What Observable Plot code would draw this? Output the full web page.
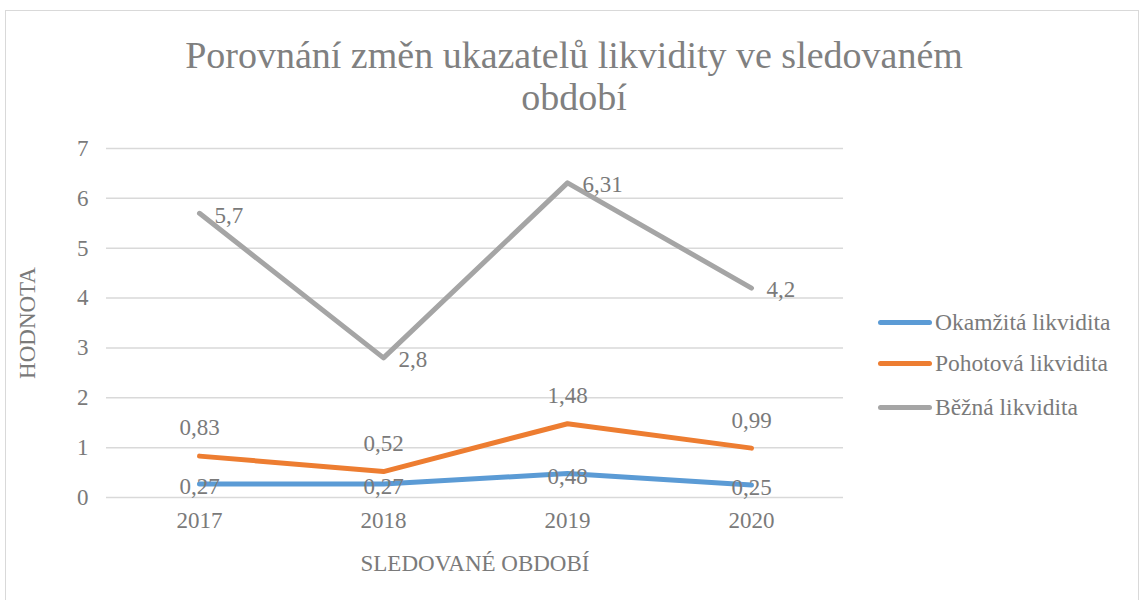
<!DOCTYPE html>
<html><head><meta charset="utf-8">
<script src="https://cdn.jsdelivr.net/npm/d3@7"></script>
<script src="https://cdn.jsdelivr.net/npm/@observablehq/plot@0.6"></script>
<style>
body{margin:0;background:#fff;font-family:"Liberation Serif",Tinos,"Times New Roman",Times,"DejaVu Serif",serif;color:#7a7a7a}
#wrap{position:relative;width:1141px;height:600px;overflow:hidden;background:#fff}
#frame{position:absolute;left:5px;top:10px;width:1134px;height:620px;border:1.5px solid #d9d9d9;box-sizing:border-box}
#title{position:absolute;left:0;top:34px;width:1148px;text-align:center;font-size:38px;line-height:42px;color:#808080}
#chart{position:absolute;left:0;top:120px}
.item{position:absolute;left:878px;height:30px;display:flex;align-items:center;font-size:23.5px;color:#7a7a7a;white-space:nowrap}
.sw{width:54px;height:5px;border-radius:3px;margin-right:3px}
</style></head>
<body>
<div id="wrap">
  <div id="frame"></div>
  <div id="title">Porovnání změn ukazatelů likvidity ve sledovaném<br>období</div>
  <div id="chart"></div>
  <div id="legend"></div>
</div>
<script>
const years = ["2017", "2018", "2019", "2020"];
const seriesNames = ["Okamžitá likvidita", "Pohotová likvidita", "Běžná likvidita"];
const okamzita = [0.27, 0.27, 0.48, 0.25];
const pohotova = [0.83, 0.52, 1.48, 0.99];
const bezna = [5.7, 2.8, 6.31, 4.2];
const colors = ["#5B9BD5", "#ED7D31", "#A5A5A5"];
const yTicks = [0, 1, 2, 3, 4, 5, 6, 7];

const seriesValues = [okamzita, pohotova, bezna];
const data = seriesNames.flatMap((s, si) => years.map((y, i) => ({series: s, year: y, value: seriesValues[si][i]})));
const fmt = v => String(v).replace(".", ",");
const textColor = "#7a7a7a";
const ff = "'Liberation Serif', Tinos, 'Times New Roman', Times, 'DejaVu Serif', serif";

const chart = Plot.plot({
  width: 1141,
  height: 480,
  marginLeft: 106,
  marginRight: 298,
  marginTop: 28,
  marginBottom: 103,
  style: {fontFamily: ff, fontSize: "23px", color: textColor, background: "transparent"},
  x: {type: "point", domain: years, padding: 0.5},
  y: {domain: [0, 7]},
  color: {domain: seriesNames, range: colors},
  marks: [
    Plot.ruleY(yTicks, {y: d => d, stroke: "#d9d9d9", strokeWidth: 1.5}),
    Plot.axisY(yTicks, {tickSize: 0, tickPadding: 18, label: null, fontSize: 23, fill: textColor, tickFormat: d => String(d)}),
    Plot.axisX({tickSize: 0, tickPadding: 14, label: null, fontSize: 23, fill: textColor}),
    Plot.text(["HODNOTA"], {frameAnchor: "left", rotate: -90, dx: -79, text: d => d, fontSize: 23, fill: textColor, textAnchor: "middle", lineAnchor: "middle"}),
    Plot.text(["SLEDOVANÉ OBDOBÍ"], {frameAnchor: "bottom", dy: 66, text: d => d, fontSize: 23, fill: textColor, lineAnchor: "middle"}),
    Plot.line(data, {x: "year", y: "value", z: "series", stroke: "series", strokeWidth: 5, strokeLinecap: "round", strokeLinejoin: "round"}),
    Plot.text(data.filter(d => d.series === seriesNames[2]), {x: "year", y: "value", text: d => fmt(d.value), textAnchor: "start", dx: 15, dy: 2, fontSize: 23, fill: textColor}),
    Plot.text(data.filter(d => d.series === seriesNames[1]), {x: "year", y: "value", text: d => fmt(d.value), dy: -28, fontSize: 23, fill: textColor}),
    Plot.text(data.filter(d => d.series === seriesNames[0]), {x: "year", y: "value", text: d => fmt(d.value), dy: 3, fontSize: 23, fill: textColor})
  ]
});
document.getElementById("chart").appendChild(chart);

const legend = document.getElementById("legend");
const rowCenters = [322, 363, 407];
seriesNames.forEach((s, i) => {
  const item = document.createElement("div");
  item.className = "item";
  item.style.top = (rowCenters[i] - 15) + "px";
  const sw = document.createElement("div");
  sw.className = "sw";
  sw.style.background = colors[i];
  const t = document.createElement("span");
  t.textContent = s;
  item.appendChild(sw);
  item.appendChild(t);
  legend.appendChild(item);
});
</script>
</body></html>
